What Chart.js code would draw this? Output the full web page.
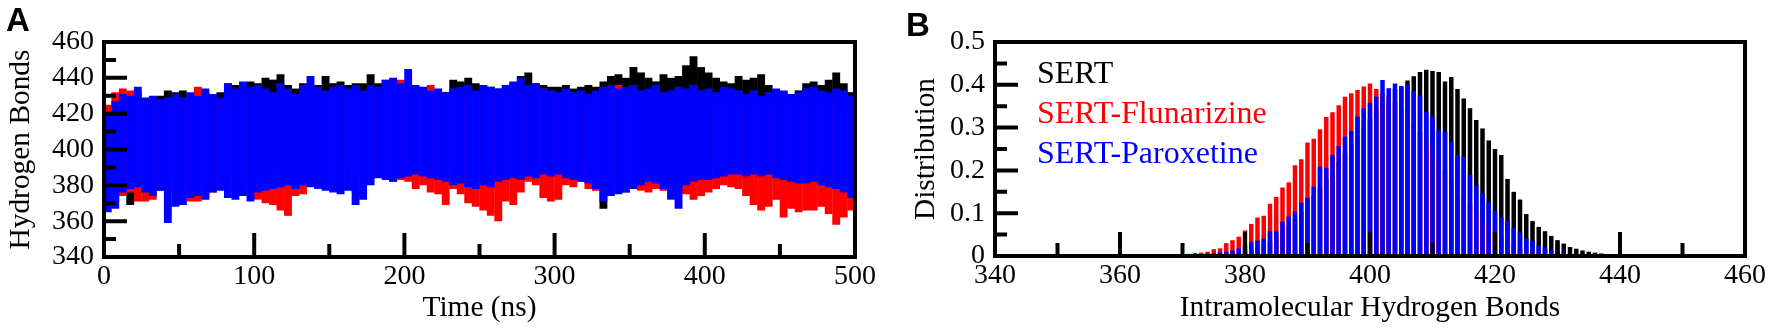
<!DOCTYPE html>
<html>
<head>
<meta charset="utf-8">
<script src="https://cdn.jsdelivr.net/npm/chart.js@4/dist/chart.umd.min.js"></script>
<style>
  body { margin: 0; background: #fff; width: 1772px; height: 329px; overflow: hidden; position: relative; }
  canvas { position: absolute; top: 0; }
  .tag { position: absolute; font: bold 33px "Liberation Sans", Arial, sans-serif; line-height: 1; color: #000; }
</style>
</head>
<body>
<canvas id="chartA" style="left:0" width="880" height="329"></canvas>
<canvas id="chartB" style="left:880px" width="892" height="329"></canvas>
<div class="tag" style="left:6px;top:3px">A</div>
<div class="tag" style="left:906px;top:8px">B</div>
<script>
/* panel A : hydrogen bonds vs time, low/high envelope of each trace per 5 ns bin */
const seriesNames = ['SERT', 'SERT-Flunarizine', 'SERT-Paroxetine'];
const seriesColors = ['#000000', '#ff0000', '#0000ff'];

const sertHi = [410,420,424,426,428,427,429,430,433,432, 433,431,433,432,430,432,437,436,437,438,
  437,440,439,442,436,434,437,434,436,441, 437,438,436,437,437,442,437,436,438,437,
  436,434,432,430,431,432,439,438,440,437, 436,435,434,436,437,441,443,437,436,435,
  435,436,434,435,436,435,438,441,442,440, 446,443,440,438,442,440,441,447,452,446,
  443,440,438,437,441,439,440,442,436,433, 432,430,433,437,438,436,439,443,437,432];
const sertLo = [372,374,375,369,381,380,383,384,382,383, 385,382,384,383,385,384,385,384,385,383,
  386,387,388,387,389,388,387,388,386,387, 388,389,387,386,388,387,385,388,389,388,
  389,390,388,387,383,388,389,387,388,389, 390,388,387,389,388,390,389,388,387,389,
  388,389,387,388,389,388,367,387,388,389, 388,387,389,388,387,386,388,387,389,388,
  389,388,390,389,388,387,388,389,388,387, 388,371,387,388,389,388,387,386,387,388];

const flunHi = [425,432,434,433,432,428,427,426,428,427, 428,429,435,429,428,427,430,429,430,431,
  430,429,431,432,430,428,427,429,431,432, 431,432,430,431,432,433,434,439,437,439,
  434,432,431,436,430,429,430,429,428,430, 431,430,429,431,432,430,431,429,434,430,
  429,430,428,427,429,430,434,435,436,430, 429,430,428,427,429,428,427,430,429,428,
  427,428,429,427,426,428,427,426,428,427, 426,428,427,426,425,427,426,428,424,423];
const flunLo = [368,371,374,376,371,371,372,377,380,377, 378,371,371,374,376,378,380,377,378,377,
  372,370,369,366,363,374,375,380,379,381, 380,382,378,376,375,383,386,385,382,383,
  382,378,380,376,375,369,378,375,370,368, 366,363,360,371,369,376,382,380,373,371,
  372,380,379,382,378,377,378,379,377,376, 378,377,376,378,377,376,377,375,372,374,
  376,378,380,379,378,374,369,366,368,372, 362,367,365,366,366,368,364,358,362,366];

const paroHi = [420,427,431,430,435,429,430,428,429,431, 429,432,430,434,431,429,437,434,438,435,
  436,434,432,437,434,431,436,441,435,433, 435,436,434,436,433,436,435,439,440,437,
  445,436,435,433,434,432,434,435,436,433, 436,435,434,436,438,440,436,437,434,433,
  432,434,432,433,431,433,435,436,434,435, 436,433,434,436,432,433,435,434,436,433,
  434,432,435,434,433,431,433,430,432,434, 433,431,432,434,435,433,432,434,433,430];
const paroLo = [365,367,376,378,379,376,374,377,359,368, 369,373,374,372,376,377,373,372,374,371,
  376,377,378,379,380,378,380,379,378,377, 376,375,377,369,372,380,384,383,382,384,
  385,386,385,384,383,382,380,381,379,378, 380,379,382,383,384,383,385,384,386,385,
  386,384,383,382,381,378,371,374,375,376, 378,380,382,381,378,372,367,380,382,383,
  383,384,385,386,386,385,386,385,386,384, 383,382,381,381,382,380,379,378,376,373];

// bin centres (5 ns wide bins)
const timeBins = sertHi.map((_, i) => i * 5 + 2.5);

/* panel B : distribution of intramolecular hydrogen bonds */
const bondCounts = [365,366,367,368,369,370,371,372,373,374,375,376,377,378,379,380,381,382,383,384,
  385,386,387,388,389,390,391,392,393,394,395,396,397,398,399,400,401,402,403,404,
  405,406,407,408,409,410,411,412,413,414,415,416,417,418,419,420,421,422,423,424,
  425,426,427,428,429,430,431,432,433,434,435,436,437,438,439];
const sertDist = [0,0,0,0,0,0.001,0.001,0.001,0.002,0.002,0.002,0.003,0.004,0.006,0.008,0.011,0.015,0.020,0.027,0.035,
  0.045,0.057,0.070,0.086,0.103,0.120,0.140,0.160,0.180,0.200,0.220,0.240,0.260,0.280,0.300,0.320,0.340,0.360,0.375,0.390,
  0.395,0.410,0.420,0.430,0.435,0.432,0.430,0.408,0.418,0.390,0.368,0.345,0.318,0.298,0.270,0.250,0.236,0.180,0.150,0.132,
  0.098,0.082,0.068,0.058,0.047,0.037,0.029,0.021,0.017,0.013,0.010,0.008,0.006,0.004,0.002];
const flunDist = [0.001,0.002,0.003,0.004,0.004,0.005,0.005,0.007,0.008,0.010,0.016,0.018,0.030,0.037,0.045,0.060,0.075,0.090,0.094,0.122,
  0.138,0.160,0.172,0.212,0.226,0.265,0.274,0.296,0.325,0.336,0.352,0.372,0.380,0.388,0.396,0.403,0.390,0.380,0.370,0.360,
  0.345,0.330,0.310,0.290,0.270,0.250,0.225,0.200,0.180,0.160,0.140,0.120,0.100,0.085,0.070,0.058,0.047,0.037,0.028,0.021,
  0.016,0.012,0.008,0.006,0.004,0.003,0.002,0.001,0,0,0,0,0,0,0];
const paroDist = [0.001,0.001,0.002,0.002,0.003,0.003,0.004,0.004,0.005,0.006,0.006,0.008,0.010,0.013,0.018,0.025,0.033,0.036,0.041,0.058,
  0.058,0.080,0.092,0.104,0.125,0.136,0.162,0.209,0.206,0.236,0.257,0.279,0.292,0.326,0.345,0.358,0.372,0.411,0.392,0.403,
  0.397,0.400,0.385,0.375,0.337,0.326,0.294,0.290,0.267,0.236,0.232,0.190,0.165,0.145,0.126,0.105,0.090,0.082,0.066,0.055,
  0.041,0.035,0.025,0.019,0.013,0.010,0.008,0.005,0.003,0.002,0,0,0,0,0];

const serif = "'Liberation Serif', 'Times New Roman', serif";

// frame + inward ticks (long on major, short on minor) + coloured text legend
const frameTicks = {
    id: 'frameTicks',
    afterDatasetsDraw(chart, args, o) {
        const ctx = chart.ctx;
        const a = chart.chartArea;
        const xs = chart.scales.x, ys = chart.scales.y;
        ctx.save();
        ctx.strokeStyle = '#000';
        ctx.lineWidth = 4;
        ctx.lineCap = 'butt';
        ctx.beginPath();
        let n = Math.round((o.yMax - o.yMin) / o.yMinor);
        for (let i = 1; i < n; i++) {
            const v = o.yMin + i * o.yMinor;
            const len = (i % o.yEvery === 0) ? 23 : 12;
            const py = ys.getPixelForValue(v);
            ctx.moveTo(a.left, py);
            ctx.lineTo(a.left + len, py);
        }
        n = Math.round((o.xMax - o.xMin) / o.xMinor);
        for (let i = 1; i < n; i++) {
            const v = o.xMin + i * o.xMinor;
            const len = (i % o.xEvery === 0) ? 24 : 13;
            const px = xs.getPixelForValue(v);
            ctx.moveTo(px, a.bottom);
            ctx.lineTo(px, a.bottom - len);
        }
        ctx.stroke();
        ctx.strokeRect(a.left, a.top, a.right - a.left, a.bottom - a.top);

        if (o.legend) {
            ctx.font = '32px ' + serif;
            ctx.textBaseline = 'alphabetic';
            ctx.textAlign = 'left';
            chart.data.datasets.forEach((ds, i) => {
                ctx.fillStyle = ds.backgroundColor;
                ctx.fillText(ds.label, a.left + 42, 83 + i * 40);
            });
        }
        ctx.restore();
    }
};

function tickFont() {
    return { family: serif, size: 28 };
}

function titleFont() {
    return { family: serif, size: 29.4 };
}

/* chart A */
function envelope(lo, hi) {
    return lo.map((v, i) => ({ x: timeBins[i], y: [v, hi[i]] }));
}

new Chart(document.getElementById('chartA'), {
    type: 'bar',
    data: {
        datasets: [
            { label: seriesNames[0], data: envelope(sertLo, sertHi), backgroundColor: seriesColors[0], order: 3 },
            { label: seriesNames[1], data: envelope(flunLo, flunHi), backgroundColor: seriesColors[1], order: 2 },
            { label: seriesNames[2], data: envelope(paroLo, paroHi), backgroundColor: seriesColors[2], order: 1 }
        ]
    },
    options: {
        responsive: false,
        devicePixelRatio: 1,
        animation: false,
        events: [],
        layout: { padding: { top: 42, right: 25, left: 0, bottom: 0 } },
        datasets: { bar: { grouped: false, barPercentage: 1.05, categoryPercentage: 1, borderWidth: 0 } },
        plugins: {
            legend: { display: false },
            tooltip: { enabled: false },
            frameTicks: { xMin: 0, xMax: 500, xMinor: 50, xEvery: 2, yMin: 340, yMax: 460, yMinor: 10, yEvery: 2 }
        },
        scales: {
            x: {
                type: 'linear', min: 0, max: 500, offset: false,
                grid: { display: false, drawTicks: false },
                border: { display: false },
                ticks: { stepSize: 100, autoSkip: false, maxRotation: 0, padding: 3, color: '#000', font: tickFont() },
                title: { display: true, text: 'Time (ns)', color: '#000', font: titleFont(), padding: { top: 0, bottom: 3 } },
                afterFit(s) { s.height = 72; }
            },
            y: {
                min: 340, max: 460,
                grid: { display: false, drawTicks: false },
                border: { display: false },
                ticks: { stepSize: 20, autoSkip: false, padding: 10, color: '#000', font: tickFont() },
                title: { display: true, text: 'Hydrogen Bonds', color: '#000', font: titleFont(), padding: { top: 4, bottom: 0 } },
                afterFit(s) { s.width = 104; }
            }
        }
    },
    plugins: [frameTicks]
});

/* chart B */
function histo(vals) {
    return vals.map((v, i) => ({ x: bondCounts[i], y: v }));
}

new Chart(document.getElementById('chartB'), {
    type: 'bar',
    data: {
        datasets: [
            { label: seriesNames[0], data: histo(sertDist), backgroundColor: seriesColors[0], order: 3 },
            { label: seriesNames[1], data: histo(flunDist), backgroundColor: seriesColors[1], order: 2 },
            { label: seriesNames[2], data: histo(paroDist), backgroundColor: seriesColors[2], order: 1 }
        ]
    },
    options: {
        responsive: false,
        devicePixelRatio: 1,
        animation: false,
        events: [],
        layout: { padding: { top: 42, right: 27, left: 0, bottom: 0 } },
        datasets: { bar: { grouped: false, barPercentage: 0.72, categoryPercentage: 1, borderWidth: 0 } },
        plugins: {
            legend: { display: false },
            tooltip: { enabled: false },
            frameTicks: { xMin: 340, xMax: 460, xMinor: 10, xEvery: 2, yMin: 0, yMax: 0.5, yMinor: 0.05, yEvery: 2, legend: true }
        },
        scales: {
            x: {
                type: 'linear', min: 340, max: 460, offset: false,
                grid: { display: false, drawTicks: false },
                border: { display: false },
                ticks: { stepSize: 20, autoSkip: false, maxRotation: 0, padding: 3, color: '#000', font: tickFont() },
                title: { display: true, text: 'Intramolecular Hydrogen Bonds', color: '#000', font: titleFont(), padding: { top: 0, bottom: 3 } },
                afterFit(s) { s.height = 73; }
            },
            y: {
                min: 0, max: 0.5,
                grid: { display: false, drawTicks: false },
                border: { display: false },
                ticks: { stepSize: 0.1, autoSkip: false, padding: 10, color: '#000', font: tickFont() },
                title: { display: true, text: 'Distribution', color: '#000', font: titleFont(), padding: { top: 29, bottom: 0 } },
                afterFit(s) { s.width = 115; }
            }
        }
    },
    plugins: [frameTicks]
});
</script>
</body>
</html>
